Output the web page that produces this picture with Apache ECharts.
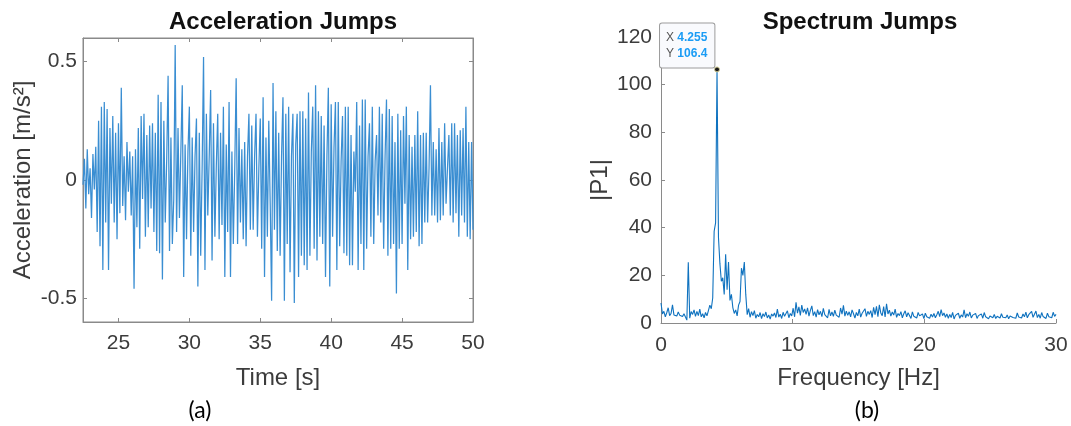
<!DOCTYPE html>
<html>
<head>
<meta charset="utf-8">
<script src="https://cdn.jsdelivr.net/npm/echarts@6/dist/echarts.min.js"></script>
<style>
  html, body { margin: 0; padding: 0; background: #fff; }
  #chart { width: 1071px; height: 426px; }
</style>
</head>
<body>
<div id="chart"></div>
<script>
// (a) acceleration, sampled every 0.1 s from 22.5 s
var accStart = 22.5;
var accStep = 0.1;
var accValues = [
  -0.02, 0.09, -0.12, 0.13, -0.06, 0.05, -0.16, 0.11, -0.04, 0.14,
  -0.22, 0.25, -0.28, 0.31, -0.38, 0.33, -0.18, 0.30, -0.38, 0.22,
  -0.10, 0.27, -0.18, 0.20, -0.25, 0.24, -0.14, 0.39, -0.11, 0.10,
  -0.17, 0.16, -0.05, 0.12, -0.15, 0.10, -0.46, 0.13, -0.20, 0.22,
  -0.29, 0.27, -0.08, 0.28, -0.24, 0.19, -0.20, 0.23, -0.12, 0.24,
  -0.22, 0.20, -0.30, 0.36, -0.31, 0.33, -0.42, 0.25, -0.18, 0.08,
  0.44, -0.30, 0.18, -0.27, -0.08, 0.57, -0.22, 0.22, -0.16, 0.12,
  0.40, -0.41, 0.15, -0.25, 0.12, 0.31, -0.32, 0.18, -0.22, 0.10,
  0.26, -0.45, 0.20, -0.32, 0.05, 0.52, -0.38, 0.28, -0.15, 0.10,
  0.38, -0.34, 0.24, -0.24, 0.06, 0.28, -0.25, 0.20, -0.19, 0.31,
  -0.41, 0.15, -0.22, 0.33, -0.41, 0.12, -0.27, 0.05, 0.43, -0.27,
  0.22, -0.18, 0.13, -0.25, 0.16, -0.28, 0.10, 0.28, -0.21, 0.23,
  -0.21, 0.10, 0.28, -0.24, 0.05, 0.26, -0.29, 0.35, -0.41, 0.18,
  -0.24, 0.25, -0.10, -0.51, 0.41, -0.21, 0.29, -0.30, 0.20, -0.32,
  0.10, 0.35, -0.51, 0.28, -0.27, 0.31, -0.39, 0.10, 0.28, -0.52,
  0.15, 0.28, -0.41, 0.29, -0.32, 0.29, -0.36, 0.26, -0.38, 0.37,
  -0.32, 0.12, 0.31, -0.29, 0.40, -0.34, 0.29, -0.24, 0.27, -0.27,
  0.23, -0.41, 0.10, 0.39, -0.45, 0.32, -0.24, 0.14, 0.33, -0.38,
  0.33, -0.28, 0.08, 0.27, -0.31, 0.31, -0.32, 0.31, -0.36, 0.19,
  -0.36, 0.12, -0.05, 0.33, -0.38, 0.23, -0.27, 0.34, -0.38, 0.34,
  -0.29, 0.10, 0.24, -0.24, 0.31, -0.27, 0.08, 0.19, -0.15, 0.31,
  -0.18, 0.28, -0.29, 0.10, 0.34, -0.32, 0.30, -0.29, 0.27, -0.27,
  0.16, -0.48, 0.28, -0.29, 0.21, -0.27, 0.27, -0.10, 0.31, -0.38,
  0.19, -0.25, 0.14, -0.24, 0.19, -0.22, 0.29, -0.28, 0.19, -0.27,
  0.20, -0.18, 0.20, -0.18, 0.05, 0.40, -0.15, 0.16, -0.15, 0.13,
  -0.18, 0.22, -0.17, 0.16, -0.15, 0.24, -0.10, 0.05, 0.19, -0.15,
  0.24, -0.18, 0.24, -0.14, 0.19, -0.24, 0.21, -0.15, 0.22, -0.18,
  0.31, -0.24, 0.16, -0.25, 0.16, -0.21
];
var accTicksX = [25, 30, 35, 40, 45, 50];
var accTicksY = [-0.5, 0, 0.5];

// (b) single sided spectrum, bin width 4.255/39 Hz
var specStep = 4.255 / 39;
var specValues = [
  8.4, 3.8, 4.9, 2.6, 4.3, 6.4, 3.1, 4.0, 7.6, 3.4,
  4.2, 2.9, 4.6, 3.3, 4.1, 2.7, 3.9, 4.4, 1.2, 25.5,
  2.0, 4.8, 3.6, 5.5, 2.8, 4.9, 3.1, 5.8, 2.6, 3.9,
  2.2, 4.4, 3.0, 5.2, 7.5, 6.0, 10.5, 38.5, 42.0, 106.4,
  36.0, 25.0, 17.5, 19.0, 12.0, 28.8, 14.0, 25.6, 9.5, 12.0,
  6.5, 4.0, 5.5, 3.0, 7.5, 9.0, 23.0, 20.0, 25.6, 12.0,
  3.5, 6.0, 2.4, 4.8, 3.1, 5.2, 2.0, 3.6, 2.6, 4.4,
  1.8, 3.9, 2.7, 4.6, 2.1, 3.4, 1.6, 3.8, 2.9, 4.2,
  2.3, 5.8, 2.5, 3.7, 1.9, 4.5, 2.8, 3.3, 5.1, 2.2,
  4.0, 3.0, 6.2, 2.6, 8.7, 4.1, 6.8, 3.2, 7.5, 4.4,
  5.9, 3.6, 6.4, 2.9, 5.3, 7.2, 3.1, 4.8, 2.5, 5.6,
  3.4, 4.9, 2.7, 6.1, 3.5, 4.3, 2.2, 5.7, 3.0, 4.6,
  2.8, 5.4, 3.3, 4.0, 2.4, 6.3, 3.7, 7.4, 2.9, 5.0,
  3.2, 4.7, 2.6, 5.5, 3.9, 2.1, 4.4, 3.0, 5.8, 2.5,
  4.1, 3.4, 6.0, 2.8, 4.9, 3.6, 5.2, 2.3, 6.6, 3.5,
  7.0, 2.7, 7.6, 4.2, 3.1, 6.9, 2.5, 8.0, 3.8, 5.4,
  2.9, 4.6, 3.3, 5.8, 2.4, 4.0, 3.1, 4.8, 2.2, 3.9,
  5.1, 2.6, 4.3, 3.5, 1.9, 4.7, 2.8, 3.6, 2.1, 4.4,
  3.0, 2.3, 3.8, 1.8, 4.1, 2.6, 3.3, 2.0, 3.7, 2.5,
  4.0, 2.2, 3.5, 4.9, 2.7, 5.6, 3.1, 4.2, 2.4, 3.8,
  2.0, 3.6, 2.3, 4.5, 1.7, 3.2, 2.6, 4.1, 2.0, 3.4,
  2.5, 5.5, 2.2, 3.9, 2.8, 4.6, 2.1, 3.3, 2.7, 4.0,
  1.9, 3.1, 2.4, 3.8, 2.0, 4.4, 2.6, 3.2, 1.8, 2.9,
  3.5, 2.2, 3.6, 1.9, 2.8, 3.3, 2.1, 3.9, 2.4, 3.0,
  2.2, 3.4, 1.8, 2.9, 3.7, 2.3, 3.1, 2.0, 4.2, 2.5,
  3.3, 2.1, 3.8, 2.6, 4.6, 2.2, 3.5, 2.8, 4.9, 2.4,
  3.2, 5.0, 2.3, 3.6, 2.0, 4.4, 2.7, 3.1, 1.9, 4.1,
  2.6, 3.4, 2.2, 4.5, 2.8, 3.6
];

var accData = accValues.map(function (v, i) { return [accStart + i * accStep, v]; });
var specData = specValues.map(function (v, i) { return [i * specStep, v]; });

// data tip on the biggest peak
var peakIdx = specValues.indexOf(Math.max.apply(null, specValues));
var peakF = specData[peakIdx][0];
var peakV = specData[peakIdx][1];

var axisColor = '#8a8a8a';
var textColor = '#3c3c3c';
var fontFam = '"Liberation Sans", Arial, sans-serif';

var tickInside = { show: true, inside: true, length: 4, lineStyle: { color: axisColor } };
var frameLine = { show: true, onZero: false, lineStyle: { color: axisColor } };

var chart = echarts.init(document.getElementById('chart'), null, { renderer: 'canvas' });

var option = {
  animation: false,
  backgroundColor: '#fff',
  textStyle: { fontFamily: fontFam },
  title: [
    { text: 'Acceleration Jumps', left: 278, top: 5, textAlign: 'center',
      textStyle: { fontSize: 24, fontWeight: 'bold', color: '#111', fontFamily: fontFam } },
    { text: 'Spectrum Jumps', left: 855, top: 5, textAlign: 'center',
      textStyle: { fontSize: 24, fontWeight: 'bold', color: '#111', fontFamily: fontFam } },
    { text: '(a)', left: 195, top: 394, textAlign: 'center',
      textStyle: { fontSize: 23, fontWeight: 'normal', color: '#000', fontFamily: 'Lato, "Open Sans", sans-serif' } },
    { text: '(b)', left: 862, top: 394, textAlign: 'center',
      textStyle: { fontSize: 23, fontWeight: 'normal', color: '#000', fontFamily: 'Lato, "Open Sans", sans-serif' } }
  ],
  grid: [
    { left: 83, top: 38, width: 390, height: 284, show: true, borderColor: axisColor, borderWidth: 1 },
    { left: 661, top: 37, width: 395, height: 286 }
  ],
  xAxis: [
    {
      gridIndex: 0, type: 'value', min: 22.5, max: 50,
      name: 'Time [s]', nameLocation: 'middle', nameGap: 44,
      nameTextStyle: { fontSize: 24, color: textColor },
      axisLine: frameLine,
      axisTick: Object.assign({ customValues: accTicksX }, tickInside),
      axisLabel: { customValues: accTicksX, fontSize: 21, color: textColor, margin: 11 },
      splitLine: { show: false }
    },
    {
      gridIndex: 0, type: 'value', min: 22.5, max: 50, position: 'top',
      axisLine: frameLine,
      axisTick: Object.assign({ customValues: accTicksX }, tickInside),
      axisLabel: { show: false },
      splitLine: { show: false }
    },
    {
      gridIndex: 1, type: 'value', min: 0, max: 30, interval: 10,
      name: 'Frequency [Hz]', nameLocation: 'middle', nameGap: 43,
      nameTextStyle: { fontSize: 24, color: textColor },
      axisLine: frameLine,
      axisTick: tickInside,
      axisLabel: { fontSize: 21, color: textColor, margin: 12 },
      splitLine: { show: false }
    }
  ],
  yAxis: [
    {
      gridIndex: 0, type: 'value', min: -0.6, max: 0.6,
      name: 'Acceleration [m/s²]', nameLocation: 'middle', nameGap: 48,
      nameTextStyle: { fontSize: 24, color: textColor },
      axisLine: frameLine,
      axisTick: Object.assign({ customValues: accTicksY }, tickInside),
      axisLabel: { customValues: accTicksY, fontSize: 21, color: textColor, margin: 6 },
      splitLine: { show: false }
    },
    {
      gridIndex: 0, type: 'value', min: -0.6, max: 0.6, position: 'right',
      axisLine: frameLine,
      axisTick: Object.assign({ customValues: accTicksY }, tickInside),
      axisLabel: { show: false },
      splitLine: { show: false }
    },
    {
      gridIndex: 1, type: 'value', min: 0, max: 120, interval: 20,
      name: '|P1|', nameLocation: 'middle', nameGap: 49,
      nameTextStyle: { fontSize: 24, color: textColor },
      axisLine: frameLine,
      axisTick: tickInside,
      axisLabel: { fontSize: 21, color: textColor, margin: 9 },
      splitLine: { show: false }
    }
  ],
  series: [
    {
      name: 'acc', type: 'line', xAxisIndex: 0, yAxisIndex: 0,
      data: accData, showSymbol: false, clip: true,
      lineStyle: { color: '#3a8ed2', width: 1.25 }
    },
    {
      name: 'spec', type: 'line', xAxisIndex: 2, yAxisIndex: 2,
      data: specData, showSymbol: false, clip: true,
      lineStyle: { color: '#0f72bf', width: 1.1 },
      markPoint: {
        symbol: 'circle', symbolSize: 5,
        itemStyle: { color: '#1a1a1a', borderColor: '#d8d29a', borderWidth: 1 },
        label: {
          show: true,
          position: [-54, -43],
          backgroundColor: '#f9fafd',
          borderColor: '#9c9c9c',
          borderWidth: 1,
          borderRadius: 2,
          padding: [6, 7, 6, 6],
          lineHeight: 16,
          formatter: function () {
            return '{k|X} {v|' + peakF.toFixed(3) + '}\n{k|Y} {v|' + peakV.toFixed(1) + '}';
          },
          rich: {
            k: { fontSize: 12, color: '#555', lineHeight: 16, fontFamily: fontFam },
            v: { fontSize: 12, color: '#1a9cf5', fontWeight: 'bold', lineHeight: 16, fontFamily: fontFam }
          }
        },
        data: [{ coord: [peakF, peakV] }]
      }
    }
  ]
};

chart.setOption(option);
</script>
</body>
</html>
